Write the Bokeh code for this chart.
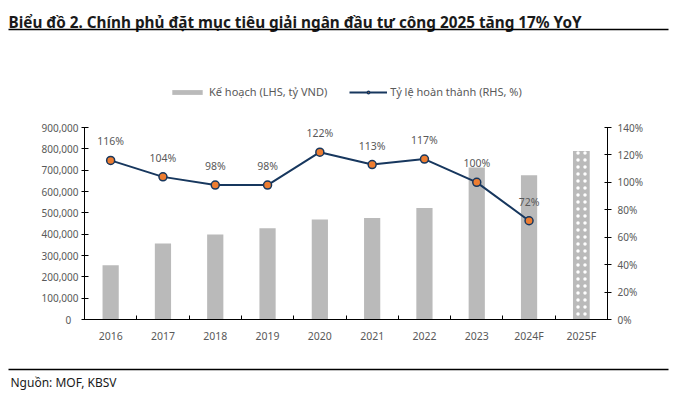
from bokeh.plotting import figure
from bokeh.models import (Range1d, LinearAxis, FixedTicker, NumeralTickFormatter,
                          PrintfTickFormatter, Legend, LegendItem)
from bokeh.core.properties import value
from bokeh.embed import file_html
from bokeh.resources import INLINE

# ---- data ----
categories = ["2016", "2017", "2018", "2019", "2020", "2021", "2022", "2023", "2024F", "2025F"]
plan = [254000, 356000, 398000, 428000, 469000, 476000, 523000, 712000, 676000, 790000]
completion = [116, 104, 98, 98, 122, 113, 117, 100, 72]
left_ticks = [0, 100000, 200000, 300000, 400000, 500000, 600000, 700000, 800000, 900000]
right_ticks = [0, 20, 40, 60, 80, 100, 120, 140]
title_text = "Biểu đồ 2. Chính phủ đặt mục tiêu giải ngân đầu tư công 2025 tăng 17% YoY"
source_text = "Nguồn: MOF, KBSV"
bar_label = "Kế hoạch (LHS, tỷ VND)"
line_label = "Tỷ lệ hoàn thành (RHS, %)"

FONT = "Noto Sans"
GREY = "#595959"
BAR = "#BABABA"
NAVY = "#17375E"
ORANGE = "#ED7D31"
W = 679

xs = list(range(len(categories)))
n_hist = len(completion)


def bare(fig):
    fig.outline_line_color = None
    fig.background_fill_color = "white"
    fig.border_fill_color = "white"
    fig.xgrid.visible = False
    fig.ygrid.visible = False
    return fig


def strip(h):
    return bare(figure(width=W, height=h, output_backend="svg", toolbar_location=None,
                       x_range=Range1d(0, W), y_range=Range1d(h, 0),
                       x_axis_location=None, y_axis_location=None,
                       min_border_left=0, min_border_right=0,
                       min_border_top=0, min_border_bottom=0))


# ---- header: title + rule ----
TH = 37
head = strip(TH)
head.text(x=[8], y=[21], text=[title_text], text_font=value(FONT), text_font_style="bold",
          text_font_size="15.3px", text_color="#1a1a1a", text_baseline="alphabetic")
head.segment(x0=[8], y0=[29], x1=[668], y1=[29], line_color="black", line_width=1.5)

# ---- main chart ----
MH = 326
FRAME_H = 240
AXIS_PX = 192
scale = FRAME_H / AXIS_PX
p = bare(figure(width=W, height=MH, output_backend="svg", toolbar_location=None,
                x_range=Range1d(-0.5, len(categories) - 0.5),
                y_range=Range1d(0, left_ticks[-1] * scale),
                min_border_left=84, min_border_right=72, min_border_top=42, min_border_bottom=44))
p.extra_y_ranges = {"pct": Range1d(0, right_ticks[-1] * scale)}

xa = p.xaxis[0]
xa.ticker = FixedTicker(ticks=xs, minor_ticks=[i + 0.5 for i in xs[:-1]])
xa.major_label_overrides = {i: c for i, c in zip(xs, categories)}
xa.major_tick_in = 0
xa.major_tick_out = 0
xa.minor_tick_in = 4
xa.minor_tick_out = 0
xa.minor_tick_line_color = "black"
xa.axis_line_color = "black"
xa.major_label_standoff = 9
xa.major_label_text_font = FONT
xa.major_label_text_font_size = "10.5px"
xa.major_label_text_color = GREY

ya = p.yaxis[0]
ya.ticker = FixedTicker(ticks=left_ticks)
ya.bounds = (left_ticks[0], left_ticks[-1])
ya.formatter = NumeralTickFormatter(format="0,0")
ya.major_label_overrides = {0: "0\u2007\u2009"}
ya.major_tick_in = 4
ya.major_tick_out = 3
ya.minor_tick_line_color = None
ya.axis_line_color = "black"
ya.major_tick_line_color = "black"
ya.major_label_standoff = 3
ya.major_label_text_font = FONT
ya.major_label_text_font_size = "10px"
ya.major_label_text_color = GREY

ra = LinearAxis(y_range_name="pct", ticker=FixedTicker(ticks=right_ticks),
                formatter=PrintfTickFormatter(format="%d%%"),
                bounds=(right_ticks[0], right_ticks[-1]))
ra.major_tick_in = 3
ra.major_tick_out = 4
ra.minor_tick_line_color = None
ra.axis_line_color = "black"
ra.major_tick_line_color = "black"
ra.major_label_standoff = 6
ra.major_label_text_font = FONT
ra.major_label_text_font_size = "10px"
ra.major_label_text_color = GREY
p.add_layout(ra, "right")

bars = p.vbar(x=xs[:n_hist], top=plan[:n_hist], width=0.31, fill_color=BAR, line_color=None)
p.vbar(x=xs[n_hist:], top=plan[n_hist:], width=0.32, fill_color=BAR, line_color=None,
       hatch_pattern="dot", hatch_color="white", hatch_scale=7, hatch_weight=1)

ln = p.line(xs[:n_hist], completion, y_range_name="pct", line_color=NAVY, line_width=2)
sc = p.scatter(xs[:n_hist], completion, y_range_name="pct", size=8, fill_color=ORANGE,
               line_color=NAVY, line_width=1.5)
p.text(x=xs[:n_hist], y=completion, text=[f"{v}%" for v in completion], y_range_name="pct",
       y_offset=-19, text_align="center", text_baseline="middle",
       text_font=value(FONT), text_font_size="10.5px", text_color=GREY)

legend = Legend(items=[LegendItem(label=bar_label, renderers=[bars]),
                       LegendItem(label=line_label, renderers=[ln, sc])],
                orientation="horizontal", location=(84, 220),
                glyph_width=38, glyph_height=6, label_standoff=3, spacing=22,
                padding=0, margin=0, border_line_color=None, background_fill_alpha=0,
                label_text_font=FONT, label_text_font_size="11px", label_text_color=GREY,
                label_height=12)
p.add_layout(legend, "center")

# ---- footer: rule + source ----
FH = 32
foot = strip(FH)
foot.segment(x0=[8], y0=[6], x1=[668], y1=[6], line_color="black", line_width=1.5)
foot.text(x=[10], y=[19], text=[source_text], text_font=value(FONT), text_font_size="12px",
          text_color="#1a1a1a", text_baseline="alphabetic")

open("out.html", "w").write(file_html([head, p, foot], INLINE))
